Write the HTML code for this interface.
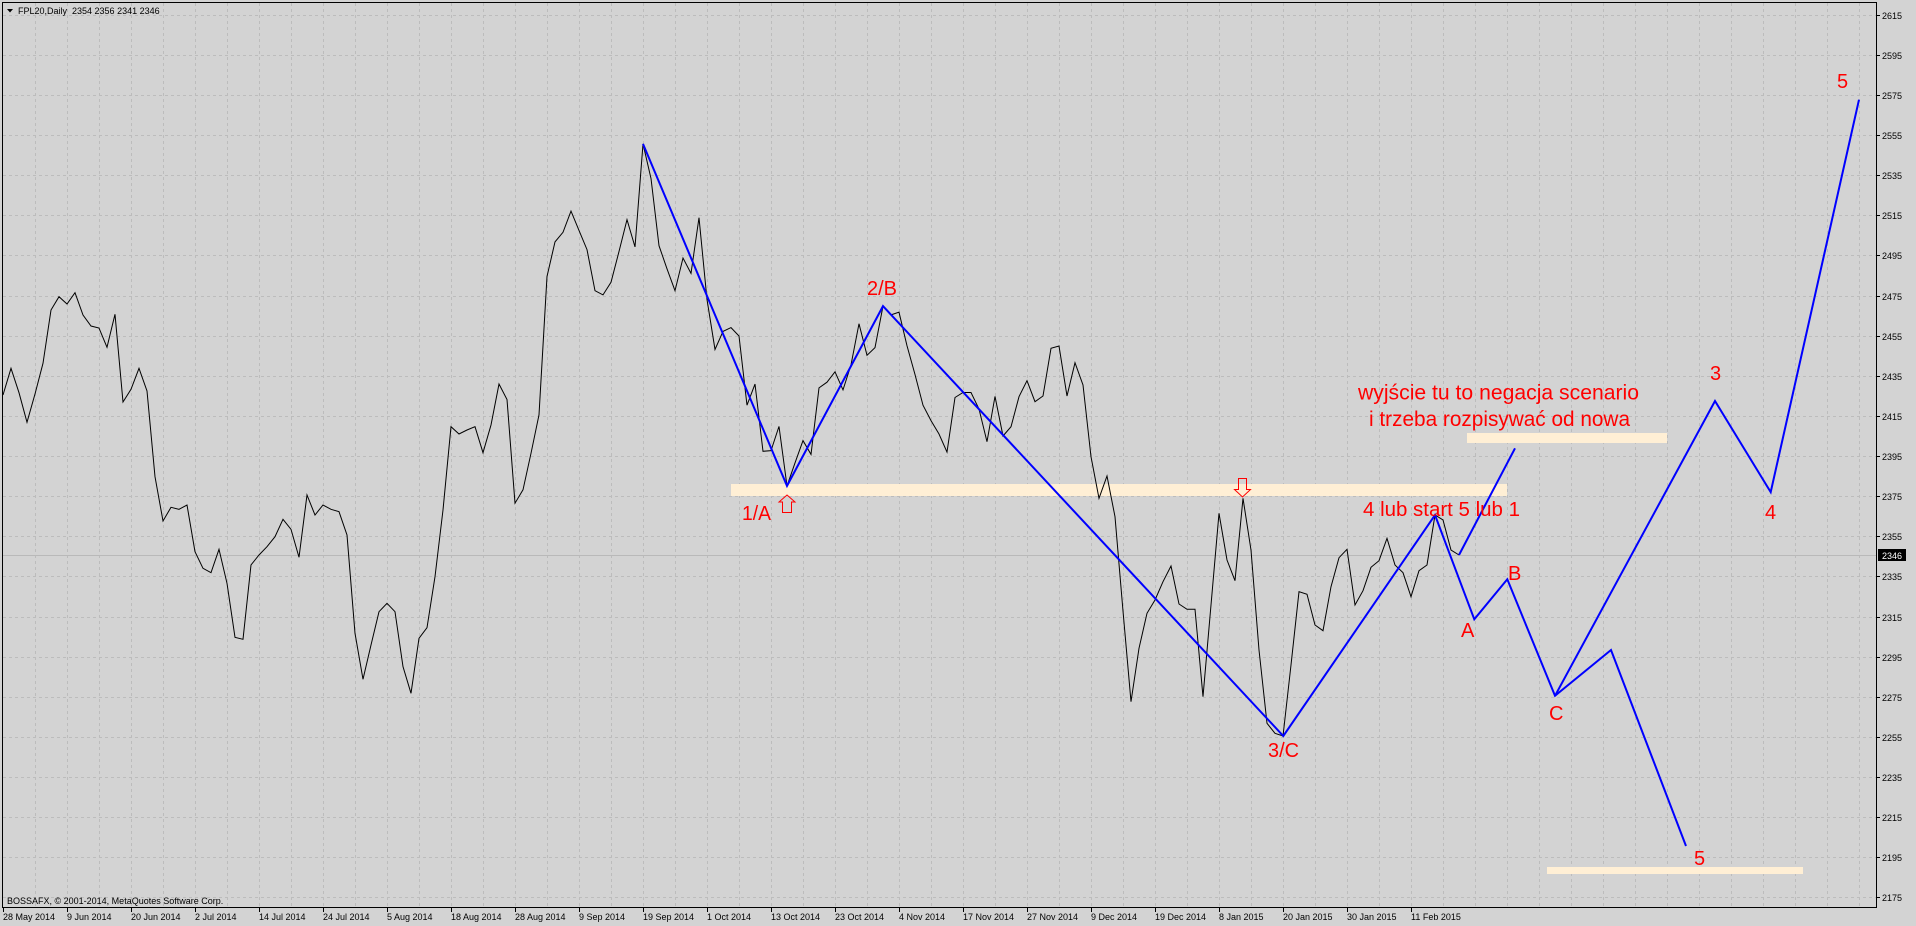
<!DOCTYPE html>
<html>
<head>
<meta charset="utf-8">
<style>
html,body{margin:0;padding:0;background:#d3d3d3;}
svg{display:block;}
text{font-family:"Liberation Sans",Arial,sans-serif;}
</style>
</head>
<body>
<svg xmlns="http://www.w3.org/2000/svg" width="1916" height="926" viewBox="0 0 1916 926">
<rect x="0" y="0" width="1916" height="926" fill="#d3d3d3"/>

<!-- horizontal grid -->
<g stroke="#bcbcbc" stroke-width="1" stroke-dasharray="3,3" shape-rendering="crispEdges">
<line x1="3" y1="15.5" x2="1876" y2="15.5"/>
<line x1="3" y1="55.5" x2="1876" y2="55.5"/>
<line x1="3" y1="95.5" x2="1876" y2="95.5"/>
<line x1="3" y1="135.5" x2="1876" y2="135.5"/>
<line x1="3" y1="175.5" x2="1876" y2="175.5"/>
<line x1="3" y1="215.5" x2="1876" y2="215.5"/>
<line x1="3" y1="255.5" x2="1876" y2="255.5"/>
<line x1="3" y1="296.5" x2="1876" y2="296.5"/>
<line x1="3" y1="336.5" x2="1876" y2="336.5"/>
<line x1="3" y1="376.5" x2="1876" y2="376.5"/>
<line x1="3" y1="416.5" x2="1876" y2="416.5"/>
<line x1="3" y1="456.5" x2="1876" y2="456.5"/>
<line x1="3" y1="496.5" x2="1876" y2="496.5"/>
<line x1="3" y1="536.5" x2="1876" y2="536.5"/>
<line x1="3" y1="576.5" x2="1876" y2="576.5"/>
<line x1="3" y1="617.5" x2="1876" y2="617.5"/>
<line x1="3" y1="657.5" x2="1876" y2="657.5"/>
<line x1="3" y1="697.5" x2="1876" y2="697.5"/>
<line x1="3" y1="737.5" x2="1876" y2="737.5"/>
<line x1="3" y1="777.5" x2="1876" y2="777.5"/>
<line x1="3" y1="817.5" x2="1876" y2="817.5"/>
<line x1="3" y1="857.5" x2="1876" y2="857.5"/>
<line x1="3" y1="897.5" x2="1876" y2="897.5"/>
</g>
<!-- vertical grid -->
<g stroke="#bcbcbc" stroke-width="1" stroke-dasharray="3,3" shape-rendering="crispEdges">
<line x1="35.5" y1="3" x2="35.5" y2="908"/><line x1="67.5" y1="3" x2="67.5" y2="908"/><line x1="99.5" y1="3" x2="99.5" y2="908"/><line x1="131.5" y1="3" x2="131.5" y2="908"/>
<line x1="163.5" y1="3" x2="163.5" y2="908"/><line x1="195.5" y1="3" x2="195.5" y2="908"/><line x1="227.5" y1="3" x2="227.5" y2="908"/><line x1="259.5" y1="3" x2="259.5" y2="908"/>
<line x1="291.5" y1="3" x2="291.5" y2="908"/><line x1="323.5" y1="3" x2="323.5" y2="908"/><line x1="355.5" y1="3" x2="355.5" y2="908"/><line x1="387.5" y1="3" x2="387.5" y2="908"/>
<line x1="419.5" y1="3" x2="419.5" y2="908"/><line x1="451.5" y1="3" x2="451.5" y2="908"/><line x1="483.5" y1="3" x2="483.5" y2="908"/><line x1="515.5" y1="3" x2="515.5" y2="908"/>
<line x1="547.5" y1="3" x2="547.5" y2="908"/><line x1="579.5" y1="3" x2="579.5" y2="908"/><line x1="611.5" y1="3" x2="611.5" y2="908"/><line x1="643.5" y1="3" x2="643.5" y2="908"/>
<line x1="675.5" y1="3" x2="675.5" y2="908"/><line x1="707.5" y1="3" x2="707.5" y2="908"/><line x1="739.5" y1="3" x2="739.5" y2="908"/><line x1="771.5" y1="3" x2="771.5" y2="908"/>
<line x1="803.5" y1="3" x2="803.5" y2="908"/><line x1="835.5" y1="3" x2="835.5" y2="908"/><line x1="867.5" y1="3" x2="867.5" y2="908"/><line x1="899.5" y1="3" x2="899.5" y2="908"/>
<line x1="931.5" y1="3" x2="931.5" y2="908"/><line x1="963.5" y1="3" x2="963.5" y2="908"/><line x1="995.5" y1="3" x2="995.5" y2="908"/><line x1="1027.5" y1="3" x2="1027.5" y2="908"/>
<line x1="1059.5" y1="3" x2="1059.5" y2="908"/><line x1="1091.5" y1="3" x2="1091.5" y2="908"/><line x1="1123.5" y1="3" x2="1123.5" y2="908"/><line x1="1155.5" y1="3" x2="1155.5" y2="908"/>
<line x1="1187.5" y1="3" x2="1187.5" y2="908"/><line x1="1219.5" y1="3" x2="1219.5" y2="908"/><line x1="1251.5" y1="3" x2="1251.5" y2="908"/><line x1="1283.5" y1="3" x2="1283.5" y2="908"/>
<line x1="1315.5" y1="3" x2="1315.5" y2="908"/><line x1="1347.5" y1="3" x2="1347.5" y2="908"/><line x1="1379.5" y1="3" x2="1379.5" y2="908"/><line x1="1411.5" y1="3" x2="1411.5" y2="908"/>
<line x1="1443.5" y1="3" x2="1443.5" y2="908"/><line x1="1475.5" y1="3" x2="1475.5" y2="908"/><line x1="1507.5" y1="3" x2="1507.5" y2="908"/><line x1="1539.5" y1="3" x2="1539.5" y2="908"/>
<line x1="1571.5" y1="3" x2="1571.5" y2="908"/><line x1="1603.5" y1="3" x2="1603.5" y2="908"/><line x1="1635.5" y1="3" x2="1635.5" y2="908"/><line x1="1667.5" y1="3" x2="1667.5" y2="908"/>
<line x1="1699.5" y1="3" x2="1699.5" y2="908"/><line x1="1731.5" y1="3" x2="1731.5" y2="908"/><line x1="1763.5" y1="3" x2="1763.5" y2="908"/><line x1="1795.5" y1="3" x2="1795.5" y2="908"/>
<line x1="1827.5" y1="3" x2="1827.5" y2="908"/><line x1="1859.5" y1="3" x2="1859.5" y2="908"/>
</g>

<!-- bid line -->
<line x1="3" y1="555.5" x2="1876" y2="555.5" stroke="#b9b9b9" stroke-width="1" shape-rendering="crispEdges"/>

<!-- cream bands -->
<rect x="731" y="484" width="776" height="12" fill="#ffefd5"/>
<rect x="1467" y="433" width="200" height="10" fill="#ffefd5"/>
<rect x="1547" y="867" width="256" height="7" fill="#ffefd5"/>

<!-- price line -->
<polyline fill="none" stroke="#000" stroke-width="1" stroke-linejoin="miter" points="
3,395 11,368.3 19,392.7 27,422.3 35,394 43,363.3 51,310 59,296.7 67,304 75,292.7 83,315 91,326 99,328 107,347.3 115,314.3 123,402 131,389.3 139,368.3 147,391 155,476.7 163,521 171,507.3 179,509.3 187,505 195,551.7 203,568.3 211,572.7 219,549.3 227,583.3 235,637.3 243,639.3 251,565 259,555 267,546.7 275,536.7 283,519.3 291,529.3 299,557.3 307,495 315,515 323,505 331,509.3 339,511.7 347,535 355,633.3 363,679.3 371,645 379,611.7 387,603.3 395,611.7 403,666.7 411,693.3 419,638.3 427,627.7 435,576.7 443,510 451,426.7 459,434 467,430 475,426.7 483,452.7 491,425 499,384 507,399.5 515,503.2 523,489.8 531,453.3 539,414.8 547,276.5 555,241.9 563,232.3 571,211.1 579,230.4 587,249.6 595,290.7 603,294.9 611,282.3 619,251.5 627,219.6 635,246.9 643,143.9 651,178.5 659,245.7 667,268.8 675,290.7 683,258 691,273.4 699,217.7 707,299.5 715,349.5 723,331.4 731,327.6 739,336 747,405.2 755,384.1 763,451.3 771,450.6 779,426.4 787,485.9 795,462.9 803,440.6 811,454.4 819,387.9 827,382.2 835,371.8 843,389.9 851,364.9 859,323.7 867,355.3 875,347.6 883,306.1 891,314.9 899,312.2 907,345.7 915,374.5 923,405.2 931,420.6 939,434 947,452.1 955,397.5 963,392.5 971,392.5 979,409 987,441.7 995,396.4 1003,436 1011,426.7 1019,396.7 1027,380.7 1035,401.7 1043,396 1051,348.3 1059,346 1067,396 1075,362.7 1083,385 1091,456.7 1099,498.3 1107,476 1115,516.7 1123,611 1131,701.7 1139,648.3 1147,613.3 1155,600 1163,581.7 1171,566 1179,604 1187,609.3 1195,609.3 1203,696.7 1211,605 1219,513.3 1227,560 1235,580.7 1243,498.3 1251,550 1259,650 1267,723.3 1275,733.3 1283,736 1291,665 1299,591.7 1307,594.3 1315,625 1323,630.7 1331,586.7 1339,557.7 1347,549.3 1355,605 1363,590.7 1371,567.3 1379,560.7 1387,538.3 1395,565 1403,572.7 1411,596.7 1419,570.7 1427,565 1435,515 1443,520 1451,550 1459,555"/>

<!-- blue wave lines -->
<g fill="none" stroke="#0000ff" stroke-width="2" stroke-linejoin="miter">
<polyline points="643,143.9 787,485.9 883,306.1 1283.3,736 1435,515 1474.3,619.3 1507.3,579.3 1555,695.8 1611,650 1686,846"/>
<polyline points="1555,695.8 1715,401 1770.7,492.1 1859,99.7"/>
<polyline points="1459,555 1515,448.3"/>
</g>

<!-- arrows -->
<polygon points="787,495 795,502 791.5,502 791.5,512.5 782.5,512.5 782.5,502 779,502" fill="none" stroke="#ff0000" stroke-width="1"/>
<polygon points="1238.5,478.5 1246.5,478.5 1246.5,489.5 1250.5,489.5 1242.5,497 1234.5,489.5 1238.5,489.5" fill="none" stroke="#ff0000" stroke-width="1"/>

<!-- red labels -->
<g fill="#ff0000" font-size="20">
<text x="742" y="520" textLength="29" lengthAdjust="spacingAndGlyphs">1/A</text>
<text x="867" y="295" textLength="30" lengthAdjust="spacingAndGlyphs">2/B</text>
<text x="1268" y="757" textLength="31" lengthAdjust="spacingAndGlyphs">3/C</text>
<text x="1363" y="516" textLength="157" lengthAdjust="spacingAndGlyphs">4 lub start 5 lub 1</text>
<text x="1461" y="637">A</text>
<text x="1508" y="580">B</text>
<text x="1549" y="720">C</text>
<text x="1710" y="380">3</text>
<text x="1765" y="519">4</text>
<text x="1837" y="88">5</text>
<text x="1694" y="865">5</text>
</g>
<g fill="#ff0000" font-size="21">
<text x="1358" y="399.5" textLength="281" lengthAdjust="spacingAndGlyphs">wyjście tu to negacja scenario</text>
<text x="1369" y="426" textLength="261" lengthAdjust="spacingAndGlyphs">i trzeba rozpisywać od nowa</text>
</g>

<!-- chart border -->
<rect x="2.5" y="2.5" width="1874" height="905" fill="none" stroke="#000" stroke-width="1" shape-rendering="crispEdges"/>

<!-- header -->
<polygon points="7,9 13,9 10,12.5" fill="#000"/>
<text x="18" y="14" font-size="9" fill="#000" xml:space="preserve">FPL20,Daily  2354 2356 2341 2346</text>

<!-- copyright -->
<text x="7" y="904" font-size="9" fill="#000">BOSSAFX, © 2001-2014, MetaQuotes Software Corp.</text>

<!-- right axis ticks -->
<g stroke="#000" stroke-width="1" shape-rendering="crispEdges">
<line x1="1876" y1="15.5" x2="1880" y2="15.5"/><line x1="1876" y1="55.5" x2="1880" y2="55.5"/><line x1="1876" y1="95.5" x2="1880" y2="95.5"/>
<line x1="1876" y1="135.5" x2="1880" y2="135.5"/><line x1="1876" y1="175.5" x2="1880" y2="175.5"/><line x1="1876" y1="215.5" x2="1880" y2="215.5"/>
<line x1="1876" y1="255.5" x2="1880" y2="255.5"/><line x1="1876" y1="296.5" x2="1880" y2="296.5"/><line x1="1876" y1="336.5" x2="1880" y2="336.5"/>
<line x1="1876" y1="376.5" x2="1880" y2="376.5"/><line x1="1876" y1="416.5" x2="1880" y2="416.5"/><line x1="1876" y1="456.5" x2="1880" y2="456.5"/>
<line x1="1876" y1="496.5" x2="1880" y2="496.5"/><line x1="1876" y1="536.5" x2="1880" y2="536.5"/><line x1="1876" y1="576.5" x2="1880" y2="576.5"/>
<line x1="1876" y1="617.5" x2="1880" y2="617.5"/><line x1="1876" y1="657.5" x2="1880" y2="657.5"/><line x1="1876" y1="697.5" x2="1880" y2="697.5"/>
<line x1="1876" y1="737.5" x2="1880" y2="737.5"/><line x1="1876" y1="777.5" x2="1880" y2="777.5"/><line x1="1876" y1="817.5" x2="1880" y2="817.5"/>
<line x1="1876" y1="857.5" x2="1880" y2="857.5"/><line x1="1876" y1="897.5" x2="1880" y2="897.5"/>
</g>
<g font-size="9" fill="#000">
<text x="1882" y="19">2615</text><text x="1882" y="59">2595</text><text x="1882" y="99">2575</text>
<text x="1882" y="139">2555</text><text x="1882" y="179">2535</text><text x="1882" y="219">2515</text>
<text x="1882" y="259">2495</text><text x="1882" y="300">2475</text><text x="1882" y="340">2455</text>
<text x="1882" y="380">2435</text><text x="1882" y="420">2415</text><text x="1882" y="460">2395</text>
<text x="1882" y="500">2375</text><text x="1882" y="540">2355</text><text x="1882" y="580">2335</text>
<text x="1882" y="621">2315</text><text x="1882" y="661">2295</text><text x="1882" y="701">2275</text>
<text x="1882" y="741">2255</text><text x="1882" y="781">2235</text><text x="1882" y="821">2215</text>
<text x="1882" y="861">2195</text><text x="1882" y="901">2175</text>
</g>
<!-- current price box -->
<rect x="1878" y="549" width="28" height="12" fill="#000"/>
<text x="1882" y="559" font-size="9" fill="#fff">2346</text>

<!-- time axis ticks -->
<g stroke="#000" stroke-width="1" shape-rendering="crispEdges">
<line x1="3.5" y1="908" x2="3.5" y2="912"/><line x1="67.5" y1="908" x2="67.5" y2="912"/><line x1="131.5" y1="908" x2="131.5" y2="912"/>
<line x1="195.5" y1="908" x2="195.5" y2="912"/><line x1="259.5" y1="908" x2="259.5" y2="912"/><line x1="323.5" y1="908" x2="323.5" y2="912"/>
<line x1="387.5" y1="908" x2="387.5" y2="912"/><line x1="451.5" y1="908" x2="451.5" y2="912"/><line x1="515.5" y1="908" x2="515.5" y2="912"/>
<line x1="579.5" y1="908" x2="579.5" y2="912"/><line x1="643.5" y1="908" x2="643.5" y2="912"/><line x1="707.5" y1="908" x2="707.5" y2="912"/>
<line x1="771.5" y1="908" x2="771.5" y2="912"/><line x1="835.5" y1="908" x2="835.5" y2="912"/><line x1="899.5" y1="908" x2="899.5" y2="912"/>
<line x1="963.5" y1="908" x2="963.5" y2="912"/><line x1="1027.5" y1="908" x2="1027.5" y2="912"/><line x1="1091.5" y1="908" x2="1091.5" y2="912"/>
<line x1="1155.5" y1="908" x2="1155.5" y2="912"/><line x1="1219.5" y1="908" x2="1219.5" y2="912"/><line x1="1283.5" y1="908" x2="1283.5" y2="912"/>
<line x1="1347.5" y1="908" x2="1347.5" y2="912"/><line x1="1411.5" y1="908" x2="1411.5" y2="912"/>
</g>
<g font-size="9" fill="#000">
<text x="3" y="920">28 May 2014</text>
<text x="67" y="920">9 Jun 2014</text>
<text x="131" y="920">20 Jun 2014</text>
<text x="195" y="920">2 Jul 2014</text>
<text x="259" y="920">14 Jul 2014</text>
<text x="323" y="920">24 Jul 2014</text>
<text x="387" y="920">5 Aug 2014</text>
<text x="451" y="920">18 Aug 2014</text>
<text x="515" y="920">28 Aug 2014</text>
<text x="579" y="920">9 Sep 2014</text>
<text x="643" y="920">19 Sep 2014</text>
<text x="707" y="920">1 Oct 2014</text>
<text x="771" y="920">13 Oct 2014</text>
<text x="835" y="920">23 Oct 2014</text>
<text x="899" y="920">4 Nov 2014</text>
<text x="963" y="920">17 Nov 2014</text>
<text x="1027" y="920">27 Nov 2014</text>
<text x="1091" y="920">9 Dec 2014</text>
<text x="1155" y="920">19 Dec 2014</text>
<text x="1219" y="920">8 Jan 2015</text>
<text x="1283" y="920">20 Jan 2015</text>
<text x="1347" y="920">30 Jan 2015</text>
<text x="1411" y="920">11 Feb 2015</text>
</g>
</svg>
</body>
</html>
